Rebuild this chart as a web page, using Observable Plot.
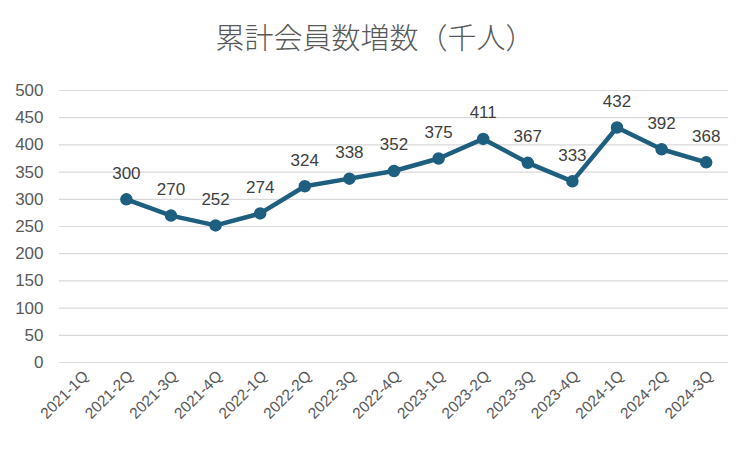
<!DOCTYPE html>
<html><head><meta charset="utf-8">
<script src="https://cdn.jsdelivr.net/npm/d3@7"></script>
<script src="https://cdn.jsdelivr.net/npm/@observablehq/plot@0.6"></script>
<style>
body{margin:0;background:#fff;}
#title{height:70px;line-height:72px;text-align:center;font-family:"Noto Sans CJK JP",sans-serif;font-weight:300;font-size:29px;color:#595959;}
</style></head>
<body>
<div id="title">累計会員数増数（千人）</div>
<div id="chart"></div>
<script>
const categories = ["2021-1Q","2021-2Q","2021-3Q","2021-4Q","2022-1Q","2022-2Q","2022-3Q","2022-4Q","2023-1Q","2023-2Q","2023-3Q","2023-4Q","2024-1Q","2024-2Q","2024-3Q"];
const values = [null,300,270,252,274,324,338,352,375,411,367,333,432,392,368];
const yTicks = [0,50,100,150,200,250,300,350,400,450,500];
const data = categories.map((c,i)=>({q:c, v:values[i]}));
const pts = data.filter(d=>d.v!=null);
const color = "#1e5f80";
const chart = Plot.plot({
  width:750, height:380,
  marginTop:20, marginBottom:88, marginLeft:59, marginRight:22,
  style:{fontFamily:"'Liberation Sans', Arial, sans-serif", fontSize:"16px", color:"#595959", background:"#fff"},
  x:{type:"point", domain:categories, padding:0.5, round:false, label:null},
  y:{domain:[0,500], label:null},
  marks:[
    Plot.ruleY(yTicks,{stroke:"#d9d9d9", strokeWidth:1.2}),
    Plot.axisY(yTicks,{tickSize:0, tickPadding:16, fontSize:17, fill:"#595959", label:null}),
    Plot.axisX({tickRotate:-45, tickSize:0, tickPadding:11, dx:4, fontSize:15.5, fill:"#595959", label:null}),
    Plot.line(pts,{x:"q", y:"v", stroke:color, strokeWidth:4.5, strokeLinejoin:"round"}),
    Plot.dot(pts,{x:"q", y:"v", r:5.5, fill:color, stroke:color}),
    Plot.text(pts,{x:"q", y:"v", text:d=>String(d.v), dy:-26, fill:"#404040", fontSize:17})
  ]
});
document.getElementById("chart").appendChild(chart);
</script>
</body></html>
